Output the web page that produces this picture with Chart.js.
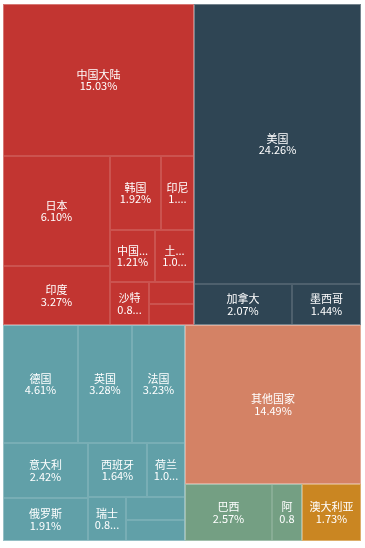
<!DOCTYPE html>
<html>
<head>
<meta charset="utf-8">
<script src="https://cdn.jsdelivr.net/npm/chart.js@4/dist/chart.umd.min.js"></script>
<style>
  html, body { margin: 0; padding: 0; background: #fff; }
</style>
</head>
<body>
<canvas id="myChart" width="365" height="548"></canvas>
<script>
  // share of world GDP (%), grouped by region
  const asiaNames = ['中国大陆', '日本', '印度', '韩国', '印尼', '中国台湾', '土耳其', '沙特', '泰国', '伊朗'];
  const asiaValues = [15.03, 6.1, 3.27, 1.92, 1.25, 1.21, 1.05, 0.85, 0.5, 0.48];
  const northAmericaNames = ['美国', '加拿大', '墨西哥'];
  const northAmericaValues = [24.26, 2.07, 1.44];
  const europeNames = ['德国', '英国', '法国', '意大利', '俄罗斯', '西班牙', '荷兰', '瑞士', '瑞典', '波兰'];
  const europeValues = [4.61, 3.28, 3.23, 2.42, 1.91, 1.64, 1.08, 0.84, 0.68, 0.66];
  const otherNames = ['其他国家'];
  const otherValues = [14.49];
  const southAmericaNames = ['巴西', '阿根廷'];
  const southAmericaValues = [2.57, 0.89];
  const oceaniaNames = ['澳大利亚'];
  const oceaniaValues = [1.73];

  const regionNames = ['亚洲', '北美洲', '欧洲', '其他', '南美洲', '大洋洲'];
  const regionColors = ['#c23531', '#2f4554', '#61a0a8', '#d48265', '#749f83', '#ca8622'];

  const regions = [
    { names: asiaNames, values: asiaValues },
    { names: northAmericaNames, values: northAmericaValues },
    { names: europeNames, values: europeValues },
    { names: otherNames, values: otherValues },
    { names: southAmericaNames, values: southAmericaValues },
    { names: oceaniaNames, values: oceaniaValues },
  ];
  const regionTotals = regions.map((r) => r.values.reduce((a, b) => a + b, 0));

  const GOLDEN = (1 + Math.sqrt(5)) / 2;

  // squarified layout, returns one rect per value (same order)
  const squarify = (values, rect) => {
    const total = values.reduce((a, b) => a + b, 0);
    const areas = values.map((v) => (v / total) * rect.w * rect.h);
    const order = values.map((v, i) => i).sort((a, b) => values[b] - values[a]);
    const r = { ...rect };
    const out = [];

    const worst = (row, sum, side) => {
      let mx = 0;
      let mn = Infinity;
      row.forEach((i) => {
        mx = Math.max(mx, areas[i]);
        mn = Math.min(mn, areas[i]);
      });
      const f = side * side * GOLDEN;
      const sq = sum * sum;
      return sq ? Math.max((f * mx) / sq, sq / (f * mn)) : Infinity;
    };

    const place = (row, sum, side, flush) => {
      const horiz = side === r.w;
      let thick = side ? sum / side : 0;
      const other = horiz ? r.h : r.w;
      if (flush || thick > other) thick = other;
      let pos = horiz ? r.x : r.y;
      const end = pos + side;
      row.forEach((i, k) => {
        let step = thick ? areas[i] / thick : 0;
        const remain = end - pos;
        if (k === row.length - 1 || remain < step) step = remain;
        out[i] = horiz
          ? { x: pos, y: r.y, w: step, h: thick }
          : { x: r.x, y: pos, w: thick, h: step };
        pos += step;
      });
      if (horiz) {
        r.y += thick;
        r.h -= thick;
      } else {
        r.x += thick;
        r.w -= thick;
      }
    };

    let row = [];
    let rowArea = 0;
    let best = Infinity;
    let side = Math.min(r.w, r.h);
    for (let k = 0; k < order.length; ) {
      const i = order[k];
      row.push(i);
      rowArea += areas[i];
      const score = worst(row, rowArea, side);
      if (score <= best) {
        k++;
        best = score;
      } else {
        row.pop();
        rowArea -= areas[i];
        place(row, rowArea, side, false);
        side = Math.min(r.w, r.h);
        row = [];
        rowArea = 0;
        best = Infinity;
      }
    }
    if (row.length) place(row, rowArea, side, true);
    return out;
  };

  const fitText = (ctx, text, maxW) => {
    if (ctx.measureText(text).width <= maxW) return text;
    const tail = maxW >= 21 ? '...' : '';
    let s = text;
    while (s.length && ctx.measureText(s + tail).width > maxW) s = s.slice(0, -1);
    return s.length ? s + tail : '';
  };

  const snap = (rc) => {
    const x0 = Math.round(rc.x);
    const y0 = Math.round(rc.y);
    return { x: x0, y: y0, w: Math.round(rc.x + rc.w) - x0, h: Math.round(rc.y + rc.h) - y0 };
  };

  const treemapPlugin = {
    id: 'treemap',
    afterDatasetsDraw(chart) {
      const { ctx } = chart;
      const { x, y } = chart.scales;
      const left = x.getPixelForValue(0);
      const right = x.getPixelForValue(1);
      const top = y.getPixelForValue(0);
      const bottom = y.getPixelForValue(1);
      const groupRects = squarify(regionTotals, { x: left, y: top, w: right - left, h: bottom - top });

      ctx.save();
      regions.forEach((region, g) => {
        const leafRects = squarify(region.values, groupRects[g]);
        leafRects.forEach((lr, i) => {
          const rc = snap(lr);
          ctx.fillStyle = regionColors[g];
          ctx.fillRect(rc.x, rc.y, rc.w, rc.h);
          ctx.strokeStyle = 'rgba(255,255,255,0.15)';
          ctx.lineWidth = 1;
          ctx.strokeRect(rc.x + 0.5, rc.y + 0.5, rc.w - 1, rc.h - 1);

          if (rc.h < 26 || rc.w < 12) return;
          ctx.font = '11px "Noto Sans CJK SC", sans-serif';
          ctx.fillStyle = '#fff';
          ctx.textAlign = 'center';
          ctx.textBaseline = 'middle';
          const maxW = rc.w - 10;
          const cx = rc.x + rc.w / 2;
          const cy = rc.y + rc.h / 2;
          ctx.fillText(fitText(ctx, region.names[i], maxW), cx, cy - 5.5);
          ctx.fillText(fitText(ctx, region.values[i].toFixed(2) + '%', maxW), cx, cy + 6);
        });
        const gr = snap(groupRects[g]);
        ctx.strokeStyle = 'rgba(255,255,255,0.22)';
        ctx.lineWidth = 1;
        ctx.strokeRect(gr.x + 0.5, gr.y + 0.5, gr.w - 1, gr.h - 1);
      });
      ctx.restore();
    },
  };

  const ctx = document.getElementById('myChart').getContext('2d');
  const myChart = new Chart(ctx, {
    type: 'scatter',
    data: {
      labels: regionNames,
      datasets: [{ label: 'GDP', data: [] }],
    },
    options: {
      responsive: false,
      animation: false,
      layout: { padding: { left: 3, top: 4, right: 4, bottom: 7 } },
      scales: {
        x: { type: 'linear', display: false, min: 0, max: 1 },
        y: { type: 'linear', display: false, min: 0, max: 1, reverse: true },
      },
      plugins: {
        legend: { display: false },
        tooltip: { enabled: false },
      },
    },
    plugins: [treemapPlugin],
  });
</script>
</body>
</html>
